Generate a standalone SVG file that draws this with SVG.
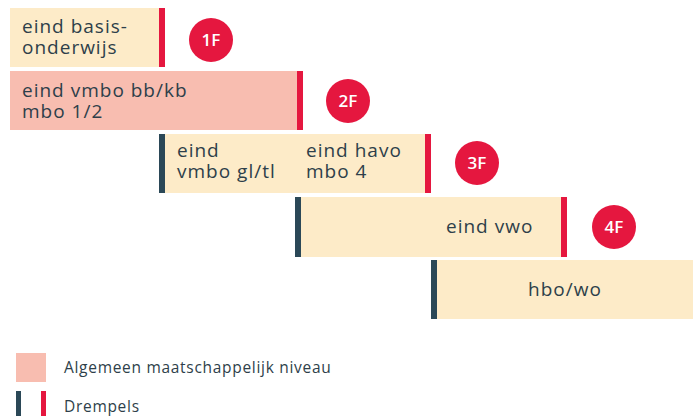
<svg xmlns="http://www.w3.org/2000/svg" width="693" height="416" viewBox="0 0 693 416">
<style>
.b{fill:#FDEBC8}
.p{fill:#F8BDB0}
.r{fill:#E5173F}
.d{fill:#2B4857}
.t{font-family:"Open Sans","Liberation Sans",sans-serif;font-size:19px;letter-spacing:1px;fill:#2E3F4A}
.c{font-family:"Open Sans","Liberation Sans",sans-serif;font-size:17px;font-weight:600;fill:#fff;text-anchor:middle}
.l{font-family:"Open Sans","Liberation Sans",sans-serif;font-size:15.5px;letter-spacing:0.7px;fill:#2E3F4A}
</style>
<g id="row1">
<rect class="b" x="10" y="8" width="150" height="59"/>
<rect class="r" x="159" y="8" width="6" height="59"/>
<text class="t" x="22" y="33">eind basis-</text>
<text class="t" x="22" y="54">onderwijs</text>
</g>
<g id="badge1F"><circle class="r" cx="211" cy="40" r="22"/><text class="c" x="211" y="46">1F</text></g>
<g id="row2">
<rect class="p" x="10" y="71" width="288" height="59"/>
<rect class="r" x="297" y="71" width="6" height="59"/>
<text class="t" x="22" y="97">eind vmbo bb/kb</text>
<text class="t" x="22" y="118">mbo 1/2</text>
</g>
<g id="badge2F"><circle class="r" cx="348" cy="101" r="22"/><text class="c" x="348" y="107">2F</text></g>
<g id="row3">
<rect class="b" x="162" y="134" width="265" height="59"/>
<rect class="d" x="159" y="134" width="6" height="59"/>
<rect class="r" x="425" y="134" width="6" height="59"/>
<text class="t" x="177" y="157">eind</text>
<text class="t" x="177" y="178">vmbo gl/tl</text>
<text class="t" x="306" y="157">eind havo</text>
<text class="t" x="306" y="178">mbo 4</text>
</g>
<g id="badge3F"><circle class="r" cx="477" cy="163" r="22"/><text class="c" x="477" y="169">3F</text></g>
<g id="row4">
<rect class="b" x="298" y="197" width="266" height="60"/>
<rect class="d" x="295" y="197" width="6" height="60"/>
<rect class="r" x="561" y="197" width="6" height="60"/>
<text class="t" x="446" y="233">eind vwo</text>
</g>
<g id="badge4F"><circle class="r" cx="614" cy="227" r="22"/><text class="c" x="614" y="233">4F</text></g>
<g id="row5">
<rect class="b" x="434" y="260" width="259" height="59"/>
<rect class="d" x="431" y="260" width="6" height="59"/>
<text class="t" x="565" y="296" text-anchor="middle">hbo/wo</text>
</g>
<g id="legend">
<rect class="p" x="16" y="353" width="30" height="29"/>
<text class="l" x="64" y="373">Algemeen maatschappelijk niveau</text>
<rect class="d" x="16" y="391" width="5" height="25"/>
<rect class="r" x="41" y="391" width="5" height="25"/>
<text class="l" x="64" y="412">Drempels</text>
</g>
<g id="connectors"/>
</svg>
